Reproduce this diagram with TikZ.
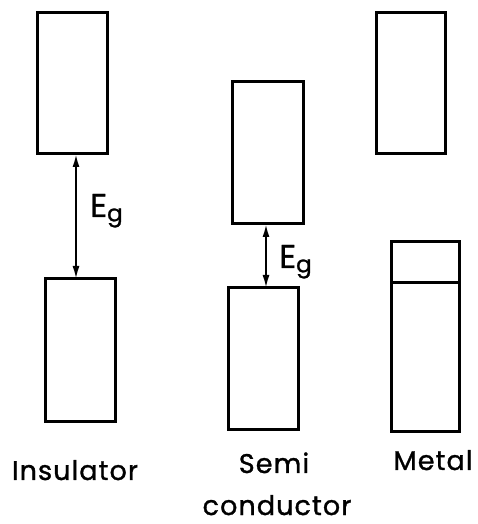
\documentclass[tikz,border=0pt]{standalone}
\usepackage{fontspec}
\setmainfont{Poppins}[LetterSpace=4, FakeBold=1.2]
\usetikzlibrary{arrows.meta}
\newcommand{\lb}{\fontsize{27}{45}\selectfont}
\newcommand{\eg}{\fontsize{33}{33}\selectfont}

\begin{document}
\begin{tikzpicture}[
  x=1pt, y=1pt,
  >={Latex[length=13pt,width=7pt]},
  band/.style={draw, line width=3pt, minimum width=70pt, inner sep=0pt, outer sep=0pt},
  lbl/.style={font=\lb, inner sep=0pt, anchor=base},
  gaplbl/.style={font=\eg, inner sep=0pt, anchor=base west},
]
  \useasboundingbox (0,0) rectangle (478,524);

  % ---------------- insulator
  \node[band, minimum height=141pt] (ins-cb) at (72,440.5) {};
  \node[band, minimum height=143pt] (ins-vb) at (80,173.5) {};
  \coordinate (ins-gap) at (76,0);
  \draw[<->, line width=2pt] (ins-gap |- ins-cb.south) -- (ins-gap |- ins-vb.north);
  \node[gaplbl] (ins-eg) at (90,307) {E\textsubscript{g}};
  \node[lbl] (ins-name) at (75,44) {Insulator};

  % ---------------- semiconductor
  \node[band, minimum width=71pt, minimum height=142pt] (sc-cb) at (267.5,371) {};
  \node[band, minimum height=142pt] (sc-vb) at (263,165) {};
  \coordinate (sc-gap) at (266,0);
  \draw[<->, line width=2pt] (sc-gap |- sc-cb.south) -- (sc-gap |- sc-vb.north);
  \node[gaplbl] (sc-eg) at (279,256) {E\textsubscript{g}};
  \node[lbl] (sc-name) at (274,51) {Semi};
  \node[lbl] (sc-name2) at (277,9) {conductor};

  % ---------------- metal
  \node[band, minimum width=69pt, minimum height=141pt] (met-cb) at (410.5,440.5) {};
  \node[band, minimum width=68pt, minimum height=190pt] (met-vb) at (425,187) {};
  \draw[line width=3pt] ([yshift=-41pt]met-vb.north west) -- ([yshift=-41pt]met-vb.north east);
  \node[lbl] (met-name) at (433,54) {Metal};
\end{tikzpicture}
\end{document}
